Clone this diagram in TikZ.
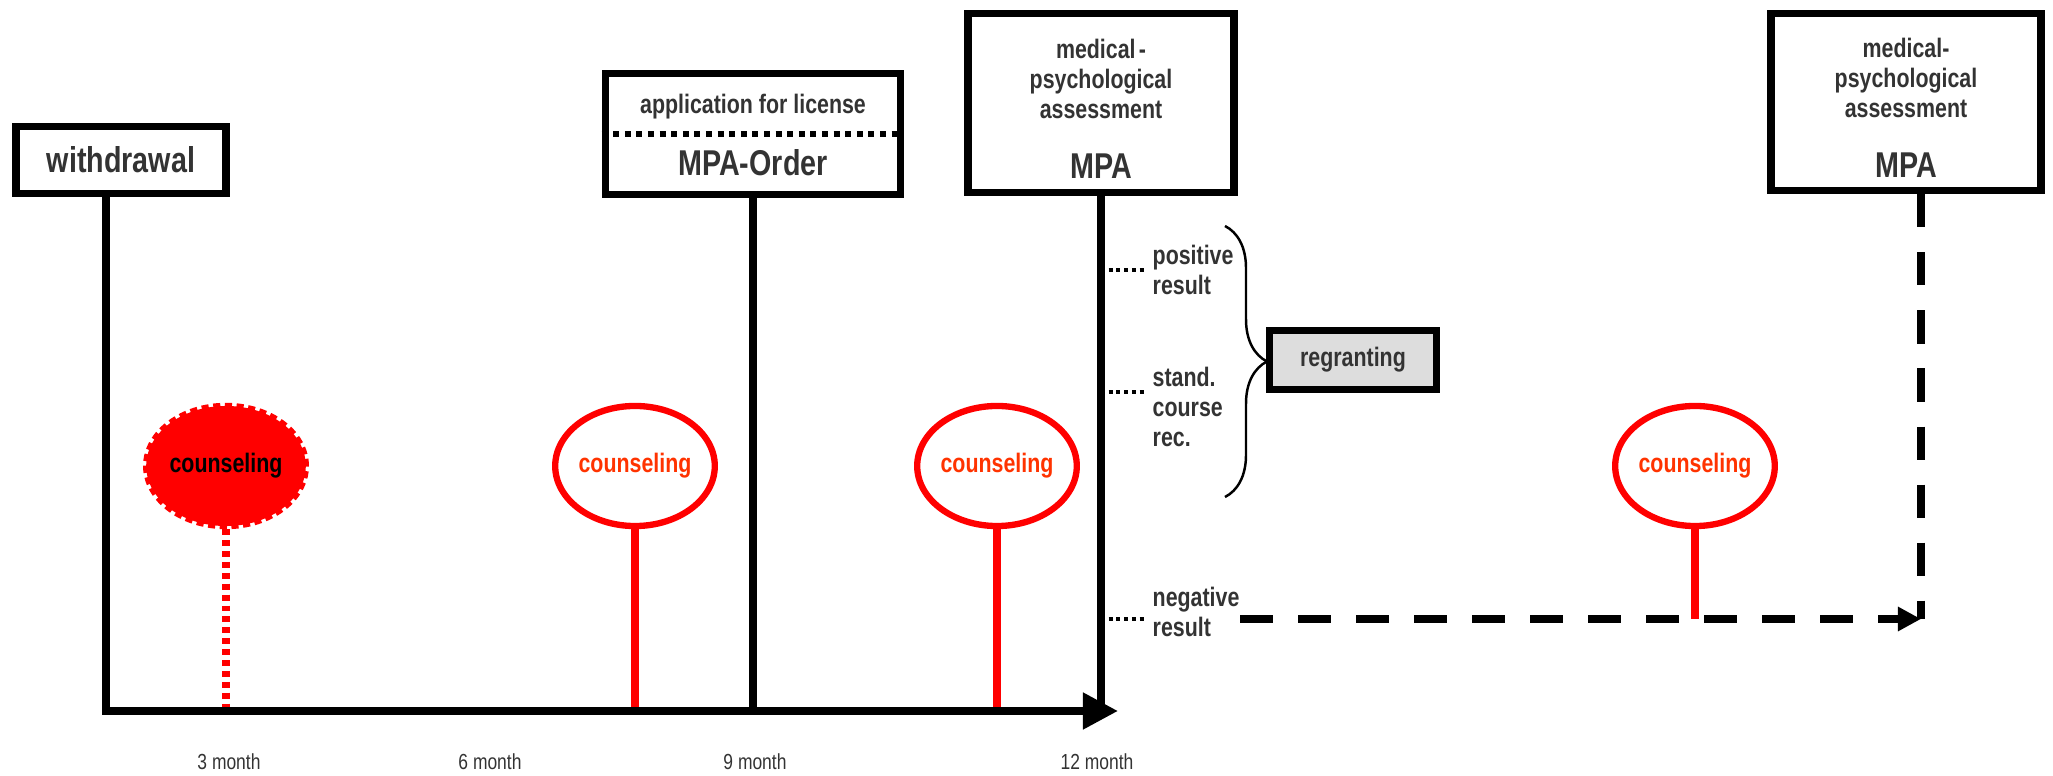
\documentclass[tikz,border=0pt]{standalone}
\usepackage{fontspec}
\setmainfont{Liberation Sans}[FakeStretch=0.8]
\usepackage{tikz}
\usetikzlibrary{positioning}
\usetikzlibrary{shapes.geometric}
\usetikzlibrary{arrows.meta}
\usetikzlibrary{decorations.pathreplacing}
\definecolor{textgrey}{HTML}{333333}
\definecolor{counsred}{HTML}{FF0000}
\definecolor{counsorange}{HTML}{FF3300}
\definecolor{regrantgrey}{HTML}{DDDDDD}

\begin{document}
\begin{tikzpicture}[x=0.01cm, y=-0.01cm,
    bigtext/.style={font=\bfseries\fontsize{10.2}{12}\selectfont, text=textgrey},
    smalltext/.style={font=\bfseries\fontsize{7.6}{8.6}\selectfont, text=textgrey},
    eventbox/.style={draw, rectangle, line width=2.2pt, inner sep=0pt},
    timeline/.style={line width=2.2pt},
    counseling/.style={ellipse, draw=counsred, line width=1.8pt, fill=white, minimum width=1.5cm, minimum height=1.2cm, inner sep=0pt, smalltext, text=counsorange},
    counselingdone/.style={counseling, fill=counsred, dash pattern=on 2pt off 1.3pt, text=black},
    counsstem/.style={draw=counsred, line width=2pt},
    sepdots/.style={line width=1.7pt, dash pattern=on 1.7pt off 1.6pt},
    resdots/.style={line width=1.1pt, dash pattern=on 1.1pt off 1.1pt},
    negdash/.style={line width=2.2pt, dash pattern=on 9.4pt off 7.1pt},
    reslabel/.style={smalltext, align=left, inner sep=0pt, anchor=west},
    regbox/.style={draw, line width=2pt, fill=regrantgrey, minimum width=1.67cm, minimum height=0.59cm, smalltext},
    resbrace/.style={decorate, decoration={brace, amplitude=0.42cm}, line width=0.7pt},
    monthlabel/.style={font=\fontsize{6.2}{7}\selectfont, text=textgrey}
  ]
  \useasboundingbox (0,0) rectangle (2053,776);

  % boxes on top
  \node[eventbox, bigtext, minimum width=2.1cm, minimum height=0.67cm] (withdrawal) at (121,160) {withdrawal};

  \node[eventbox, minimum width=2.95cm, minimum height=1.21cm] (order) at (753,134) {};
  \node[smalltext] (application) at (753,107) {application for license};
  \node[bigtext] (mpaorder) at (753,163) {MPA-Order};
  \draw[sepdots] (order.west) -- (order.east);

  \node[eventbox, minimum width=2.66cm, minimum height=1.79cm] (mpa) at (1101,103) {};
  \node[smalltext, align=center] (mpadesc) at (1101,79) {medical\hspace{0.12em}-\\psychological\\assessment};
  \node[bigtext] (mpalabel) at (1101,166) {MPA};

  \node[eventbox, minimum width=2.7cm, minimum height=1.77cm] (mpa2) at (1906,102) {};
  \node[smalltext, align=center] (mpa2desc) at (1906,78) {medical-\\psychological\\assessment};
  \node[bigtext] (mpa2label) at (1906,165) {MPA};

  % counseling
  \node[counselingdone] (couns1) at (226,466) {counseling};
  \foreach \n/\x in {2/635, 3/997, 4/1695}
    \node[counseling] (couns\n) at (\x,466) {counseling};

  \coordinate (t0) at (106,711);
  \coordinate (tend) at (1118,711);
  \coordinate (negcorner) at (1921,619);

  \draw[counsstem, dash pattern=on 1.7pt off 1.4pt] (couns1.south) -- (couns1.south |- t0);
  \draw[counsstem] (couns2.south) -- (couns2.south |- t0);
  \draw[counsstem] (couns3.south) -- (couns3.south |- t0);
  \draw[counsstem] (couns4.south) -- (couns4.south |- negcorner);

  % time axis
  \draw[timeline] (order.south) -- (order.south |- t0);
  \draw[timeline] (mpa.south) -- (mpa.south |- t0);
  \draw[timeline, -{Triangle[length=0.35cm, width=0.35cm]}] (withdrawal.south -| t0) -- (t0) -- (tend);

  \foreach \x/\m in {229/3, 490/6, 755/9, 1097/12}
    \node[monthlabel] (month\m) at (\x,762) {\m\ month};

  % results
  \node[reslabel] (positive) at (1152,270) {positive\\result};
  \node[reslabel] (standard) at (1152,407) {stand.\\course\\rec.};
  \node[reslabel] (negative) at (1152,612) {negative\\result};
  \draw[resdots] (mpa.south |- positive.west) -- ([xshift=-0.05cm]positive.west);
  \draw[resdots] ([yshift=0.15cm]mpa.south |- standard.west) -- ([xshift=-0.05cm, yshift=0.15cm]standard.west);
  \draw[resdots] (mpa.south |- negcorner) -- ([xshift=-0.05cm]negative.west |- negcorner);

  \coordinate (bracetop) at (1225,226);
  \coordinate (bracebot) at (1225,497);
  \draw[resbrace] (bracetop) -- (bracebot);
  \node[regbox] (regrant) at (1353,360) {regranting};

  \draw[negdash] (mpa2.south -| negcorner) -- (negcorner);
  \draw[negdash, -{Triangle[length=0.23cm, width=0.23cm]}] (negative.east |- negcorner) -- (negcorner);
\end{tikzpicture}
\end{document}
